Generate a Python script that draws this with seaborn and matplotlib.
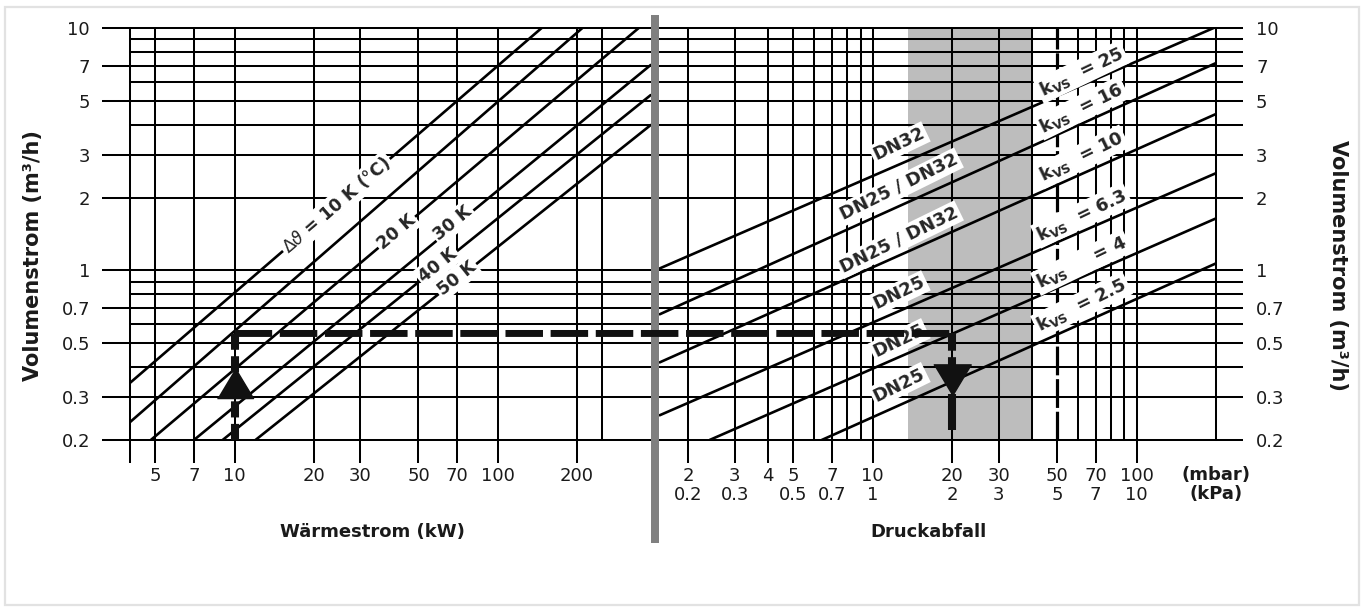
import numpy as np
import pandas as pd
import matplotlib
matplotlib.use("Agg")
import matplotlib.pyplot as plt
import seaborn as sns
from matplotlib.patches import ConnectionPatch, Rectangle
from matplotlib.ticker import NullLocator, NullFormatter

# --- values ---
# left part: heat flow (kW) -> volume flow (m3/h), one line per temperature spread
dt_names = ["10", "15", "20", "30", "40", "50"]
dt_q_start = [4.0, 4.0, 4.8, 7.0, 9.0, 12.0]
dt_v_start = [0.344, 0.237, 0.2, 0.2, 0.2, 0.2]
dt_q_end = [147, 210, 344, 382, 382, 382]
dt_v_end = [10, 10, 10, 7.04, 5.29, 3.98]

dt_labels = [r"$\Delta\vartheta$ = 10 K (°C)", "20 K", "30 K", "40 K", "50 K"]
dt_label_line = [0, 2, 3, 4, 5]
dt_label_q = [24.4, 41.3, 67.5, 59.2, 69.9]
dt_label_v = [1.86, 1.44, 1.57, 1.05, 0.93]

# right part: pressure drop (mbar) -> volume flow, one line per kvs value
kvs_names = ["25", "16", "10", "6.3", "4", "2.5"]
kvs_dp_start = [1.56, 1.56, 1.56, 1.56, 2.41, 6.41]
kvs_v_start = [1.02, 0.66, 0.418, 0.253, 0.2, 0.2]
kvs_dp_end = [200, 200, 200, 200, 200, 200]
kvs_v_end = [10.1, 7.17, 4.42, 2.52, 1.64, 1.07]

dn_names = ["DN32", "DN25 / DN32", "DN25 / DN32", "DN25", "DN25", "DN25"]
dn_label_dp = 12.6
dn_label_v = [3.32, 2.21, 1.34, 0.807, 0.512, 0.337]
kvs_label_dp = 61.9
kvs_label_v = [6.59, 4.68, 2.94, 1.69, 1.08, 0.721]
kvs_gap = ["  ", "  ", "  ", "  ", "     ", "  "]

# axes ticks / grid
q_ticks = [4, 5, 7, 10, 20, 30, 50, 70, 100, 200]
q_tick_labels = ["", "5", "7", "10", "20", "30", "50", "70", "100", "200"]
q_grid_extra = [250]
v_ticks = [0.2, 0.3, 0.5, 0.7, 1, 2, 3, 5, 7, 10]
v_tick_labels = ["0.2", "0.3", "0.5", "0.7", "1", "2", "3", "5", "7", "10"]
v_grid_extra = [0.4, 0.6, 0.8, 0.9, 4, 6, 8, 9]
dp_ticks = [2, 3, 4, 5, 7, 10, 20, 30, 50, 70, 100]
dp_mbar = ["2", "3", "4", "5", "7", "10", "20", "30", "50", "70", "100"]
dp_kpa = ["0.2", "0.3", "", "0.5", "0.7", "1", "2", "3", "5", "7", "10"]
dp_grid_extra = [6, 8, 9, 40, 60, 80, 90, 200]
dp_dashed = 50
band_dp = [13.6, 40]

# worked example: 10 kW -> 0.55 m3/h -> 20 mbar
ex_q, ex_dp, ex_v = 10, 20, 0.55
ex_up_arrow_v = 0.344
ex_down_arrow_v = 0.354
ex_down_dash_end = 0.40
ex_down_solid = [0.31, 0.22]

sns.set_style("white")
plt.rcParams["font.family"] = ["DejaVu Sans"]
plt.rcParams["mathtext.fontset"] = "dejavusans"

W, H = 1364, 607
fig = plt.figure(figsize=(W / 100, H / 100), dpi=100)


def px_axes(x0, x1, y0, y1):
    return fig.add_axes([x0 / W, 1 - y1 / H, (x1 - x0) / W, (y1 - y0) / H])


ax1 = px_axes(130, 651, 28, 440)
ax2 = px_axes(659, 1216, 28, 440)
for ax in (ax1, ax2):
    ax.set_xscale("log")
    ax.set_yscale("log")
    for s in ax.spines.values():
        s.set_visible(False)
    ax.set_facecolor("none")

# diagonal lines through seaborn
dt_df = pd.DataFrame({"line": dt_names * 2,
                      "Q": dt_q_start + dt_q_end,
                      "V": dt_v_start + dt_v_end})
kvs_df = pd.DataFrame({"line": kvs_names * 2,
                       "dp": kvs_dp_start + kvs_dp_end,
                       "V": kvs_v_start + kvs_v_end})
sns.lineplot(data=dt_df, x="Q", y="V", units="line", estimator=None,
             color="black", lw=1.9, ax=ax1, legend=False, zorder=2)
sns.lineplot(data=kvs_df, x="dp", y="V", units="line", estimator=None,
             color="black", lw=1.9, ax=ax2, legend=False, zorder=2)

ax1.set_xlim(4, 383)
ax2.set_xlim(1.55, 200)
for ax in (ax1, ax2):
    ax.set_ylim(0.2, 10)
    ax.set_xlabel("")
    ax.set_ylabel("")

# grid
grid_kw = dict(color="black", lw=1.45, clip_on=False, zorder=1)
for q in q_ticks + q_grid_extra:
    ax1.axvline(q, **grid_kw)
for v in v_ticks + v_grid_extra:
    ax1.axhline(v, **grid_kw)
    ax2.axhline(v, **grid_kw)
for p in dp_ticks + dp_grid_extra:
    if p != dp_dashed:
        ax2.axvline(p, **grid_kw)
ax2.axvline(dp_dashed, color="black", lw=2.3, ls=(0, (9, 1.2)), clip_on=False, zorder=1)
ax2.axvspan(*band_dp, color="#bdbdbd", lw=0, zorder=0.5)

# ticks
ax1.set_xticks(q_ticks, q_tick_labels)
ax1.set_yticks(v_ticks, v_tick_labels)
ax2.set_xticks(dp_ticks, [m + ("\n" + k if k else "") for m, k in zip(dp_mbar, dp_kpa)])
ax2.set_yticks(v_ticks, v_tick_labels)
ax2.set_yticks(v_grid_extra, minor=True)
for ax in (ax1, ax2):
    ax.xaxis.set_minor_locator(NullLocator())
    ax.xaxis.set_minor_formatter(NullFormatter())
    ax.yaxis.set_minor_formatter(NullFormatter())
ax1.yaxis.set_minor_locator(NullLocator())
ax2.yaxis.tick_right()
tick_font = dict(labelsize=13, labelcolor="#1a1a1a", color="black", width=1.45)
ax1.tick_params(axis="x", which="major", length=16.6, pad=3, bottom=True, **tick_font)
ax1.tick_params(axis="y", which="major", length=20.2, pad=8.6, left=True, **tick_font)
ax2.tick_params(axis="x", which="major", length=16.6, pad=3, bottom=True, **tick_font)
ax2.tick_params(axis="y", which="both", length=19.4, pad=9.4, right=True, left=False, **tick_font)
for lab in ax2.get_xticklabels():
    lab.set_linespacing(1.05)
ax2.annotate("(mbar)\n(kPa)", xy=(200, 0), xycoords=("data", "axes fraction"),
             xytext=(0, -19.0), textcoords="offset points", ha="center", va="top",
             fontsize=13, fontweight="bold", linespacing=1.05, color="#1a1a1a")


def line_angle(ax, x0, y0, x1, y1):
    (a, b), (c, d) = ax.transData.transform([(x0, y0), (x1, y1)])
    return np.degrees(np.arctan2(d - b, c - a))


box = dict(boxstyle="square,pad=0.12", fc="white", ec="none")
for text, i, q, v in zip(dt_labels, dt_label_line, dt_label_q, dt_label_v):
    ang = line_angle(ax1, dt_q_start[i], dt_v_start[i], dt_q_end[i], dt_v_end[i])
    ax1.text(q, v, text, rotation=ang, rotation_mode="anchor", ha="center", va="center",
             fontsize=12.5, fontweight="bold", bbox=box, zorder=3)

for i, name in enumerate(kvs_names):
    ang = line_angle(ax2, kvs_dp_start[i], kvs_v_start[i], kvs_dp_end[i], kvs_v_end[i]) + 2
    ax2.text(dn_label_dp, dn_label_v[i], dn_names[i], rotation=ang, rotation_mode="anchor",
             ha="center", va="center", fontsize=13, fontweight="bold", bbox=box, zorder=3)
    ax2.text(kvs_label_dp, kvs_label_v[i], r"k$_\mathbf{VS}$" + kvs_gap[i] + "= " + name,
             rotation=ang, rotation_mode="anchor", ha="center", va="center",
             fontsize=13, fontweight="bold", bbox=box, zorder=3)

# worked example path
path_col = "#111111"
ax1.plot([ex_q, ex_q], [0.2, ex_v], color=path_col, lw=5.8, ls=(0, (2.0, 0.8)),
         dash_capstyle="butt", zorder=5, clip_on=False)
ax1.plot([ex_q], [ex_up_arrow_v], marker=[(-1.2, -1), (1.2, -1), (0, 1)], ms=26,
         color=path_col, zorder=6)
ax2.plot([ex_dp, ex_dp], [ex_v, ex_down_dash_end], color=path_col, lw=5.8, ls=(0, (2.2, 0.8)),
         dash_capstyle="butt", zorder=5, clip_on=False)
ax2.plot([ex_dp, ex_dp], ex_down_solid, color=path_col, lw=5.8, solid_capstyle="butt", zorder=5)
ax2.plot([ex_dp], [ex_down_arrow_v], marker=[(-1.2, 1), (1.2, 1), (0, -1)], ms=27,
         color=path_col, zorder=6)
con = ConnectionPatch(xyA=(ex_q, ex_v), coordsA=ax1.transData,
                      xyB=(ex_dp, ex_v), coordsB=ax2.transData,
                      arrowstyle="-", color=path_col, lw=5.0, linestyle=(0, (5.4, 1.1)),
                      capstyle="butt", zorder=7)
fig.add_artist(con)

# divider and outer frame
fig.add_artist(Rectangle((651 / W, 1 - 543 / H), 8 / W, 528 / H, transform=fig.transFigure,
                         fc="#808080", ec="none", zorder=4))
fig.add_artist(Rectangle((5 / W, 2 / H), 1354 / W, 598 / H, transform=fig.transFigure,
                         fill=False, ec="#e2e2e2", lw=1.6, zorder=0))

# axis titles
lab_kw = dict(fontweight="bold", color="#1a1a1a", ha="center", va="center")
fig.text(372 / W, 1 - 532 / H, "Wärmestrom (kW)", fontsize=13, **lab_kw)
fig.text(929 / W, 1 - 532 / H, "Druckabfall", fontsize=13, **lab_kw)
fig.text(33 / W, 1 - 256 / H, "Volumenstrom (m³/h)", rotation=90, fontsize=15, **lab_kw)
fig.text(1338 / W, 1 - 265 / H, "Volumenstrom (m³/h)", rotation=-90, fontsize=15, **lab_kw)

fig.savefig("out.png", dpi=100)
